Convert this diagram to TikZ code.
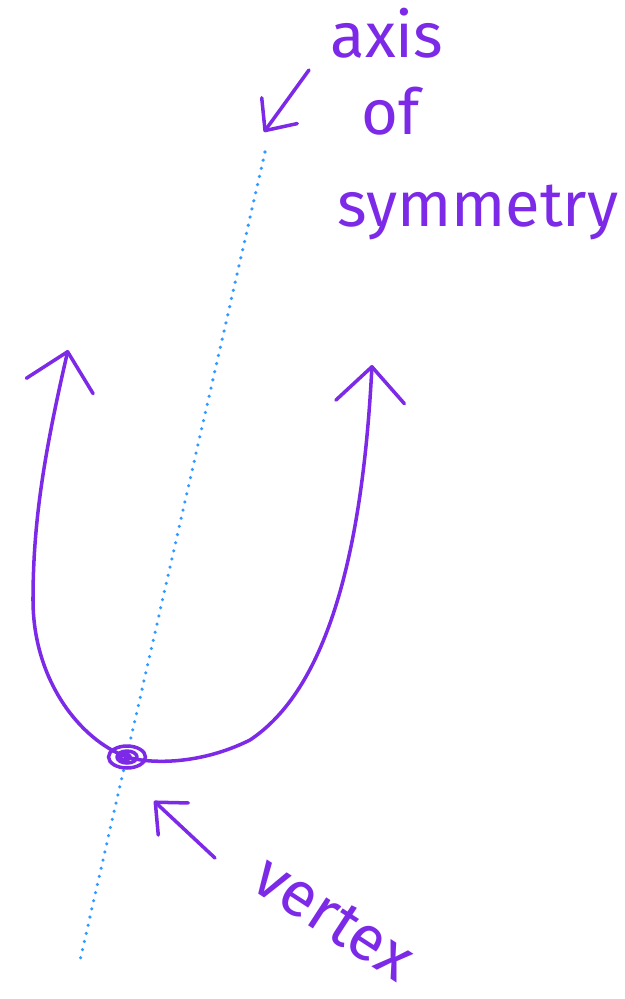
\documentclass[tikz,border=0pt]{standalone}
\usepackage{fontspec}
\setmainfont{Fira Sans}
\usetikzlibrary{arrows.meta,shapes.geometric}
\definecolor{inkpurple}{RGB}{124,42,232}
\definecolor{dotblue}{RGB}{51,153,255}
\tikzset{
  ink/.style={draw=inkpurple, line width=4pt, line cap=round, line join=round},
  hand/.style={text=inkpurple, font=\fontsize{72}{72}\selectfont, inner sep=0pt},
  axisdots/.style={draw=dotblue, line width=4pt, line cap=round,
                   dash pattern=on 0pt off 9.5pt},
  twobarb/.style={{Straight Barb[round, length=40pt, width=78pt]}-{Straight Barb[round, length=40pt, width=78pt]}},
  pointer/.style={ink, -{Straight Barb[round, length=28pt, width=50pt]}},
}

\begin{document}
\begin{tikzpicture}[x=0.04cm, y=-0.04cm]
  \useasboundingbox (0,0) rectangle (624,999);

  % axis of symmetry
  \coordinate (axtop) at (265,152);
  \coordinate (axbot) at (79,965);
  \draw[axisdots] (axtop) -- (axbot);

  % parabola
  \node[ellipse, draw=inkpurple, line width=4pt, minimum width=42pt,
        minimum height=25pt, inner sep=0pt] (vtx) at (127,757) {};
  \draw[ink] (vtx.center) ellipse [x radius=10, y radius=6];
  \draw[ink] ([xshift=-2pt]vtx.center) ellipse [x radius=5, y radius=3];
  \coordinate (lefttip) at (68,350);
  \coordinate (righttip) at (372,365);
  \draw[ink, twobarb] (lefttip) .. controls (45,450) and (33,520) .. (33,600)
    .. controls (33,680) and (80,740) .. (vtx.center)
    .. controls (150,764) and (200,765) .. (250,740)
    .. controls (325,690) and (362,560) .. (righttip);

  % labels
  \node[hand, anchor=base] (axislbl) at (387,58) {axis};
  \node[hand, anchor=base] (oflbl) at (391,135) {of};
  \node[hand, anchor=base] (symlbl) at (478,226) {symmetry};
  \node[hand, rotate=-33] (vertexlbl) at (334,918) {vertex};

  % pointers
  \coordinate (axfrom) at (309,70);
  \coordinate (axto) at (264,132);
  \draw[pointer] (axfrom) -- (axto);
  \coordinate (vxfrom) at (215,858);
  \coordinate (vxto) at (154,801);
  \draw[pointer] (vxfrom) -- (vxto);
\end{tikzpicture}
\end{document}
